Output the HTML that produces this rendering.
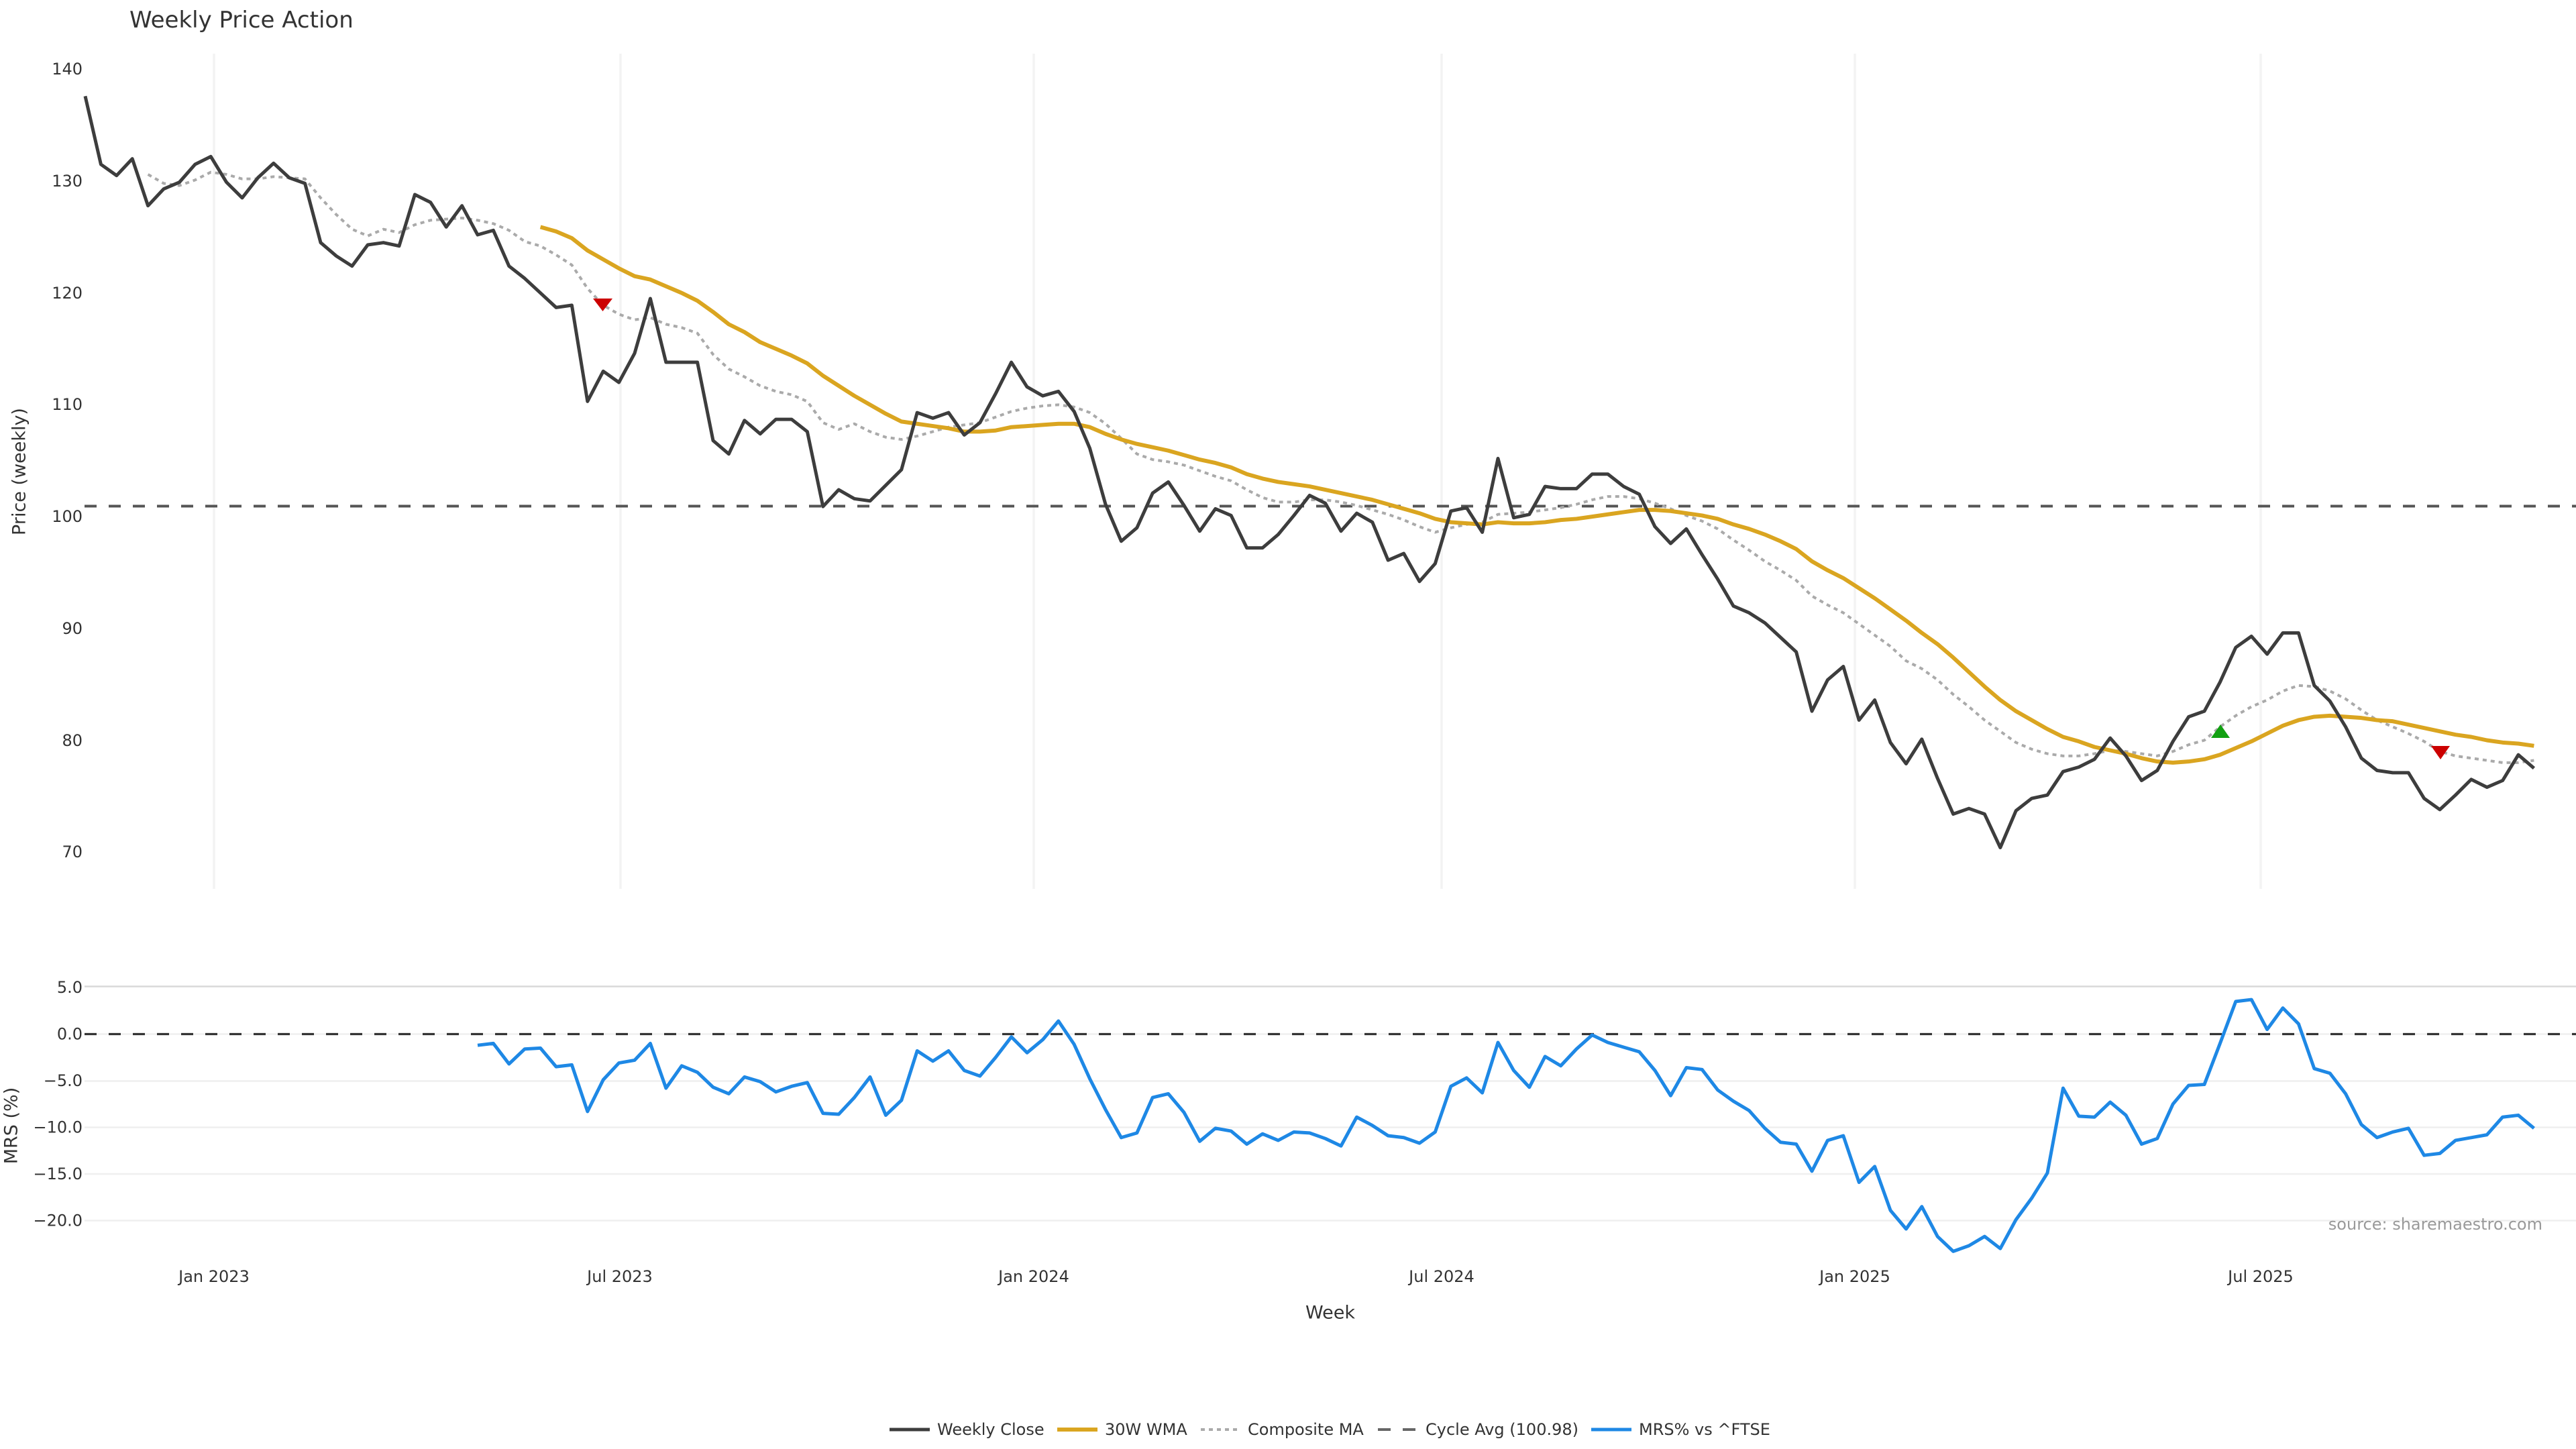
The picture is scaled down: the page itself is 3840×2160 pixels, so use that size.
<!DOCTYPE html>
<html><head><meta charset="utf-8"><style>
html,body{margin:0;padding:0;background:#fff;}
svg{display:block;}
text{font-family:"DejaVu Sans","Liberation Sans",sans-serif;fill:#333;}
</style></head><body>
<svg width="3840" height="2160" viewBox="0 0 3840 2160" xmlns="http://www.w3.org/2000/svg">
<rect width="3840" height="2160" fill="#fff"/>
<text x="193" y="41" font-size="34">Weekly Price Action</text>
<g stroke="#f3f3f3" stroke-width="3.5">
<line x1="319" y1="80" x2="319" y2="1325"/><line x1="925" y1="80" x2="925" y2="1325"/><line x1="1541" y1="80" x2="1541" y2="1325"/><line x1="2149" y1="80" x2="2149" y2="1325"/><line x1="2765" y1="80" x2="2765" y2="1325"/><line x1="3370" y1="80" x2="3370" y2="1325"/>
</g>
<g font-size="24" text-anchor="end" dominant-baseline="central">
<text x="123" y="103">140</text><text x="123" y="270">130</text><text x="123" y="437">120</text><text x="123" y="603">110</text><text x="123" y="770">100</text><text x="123" y="937">90</text><text x="123" y="1104">80</text><text x="123" y="1270">70</text>
</g>
<text transform="translate(29,703) rotate(-90)" font-size="27" text-anchor="middle" dominant-baseline="central">Price (weekly)</text>
<line x1="126" y1="754.5" x2="3840" y2="754.5" stroke="#555" stroke-width="4" stroke-dasharray="18 18"/>
<g transform="matrix(23.4 0 0 -16.67 127 2437.1)" fill="none" stroke-linejoin="round">
<polyline vector-effect="non-scaling-stroke" stroke="#aaaaaa" stroke-width="4" stroke-dasharray="6 6" points="4,130.6 5,129.8 6,129.6 7,130.1 8,130.8 9,130.6 10,130.2 11,130.2 12,130.4 13,130.3 14,130.2 15,128.5 16,127.0 17,125.7 18,125.1 19,125.7 20,125.4 21,126.1 22,126.5 23,126.6 24,126.7 25,126.5 26,126.2 27,125.6 28,124.6 29,124.2 30,123.4 31,122.5 32,120.4 33,118.9 34,118.1 35,117.6 36,117.8 37,117.2 38,116.9 39,116.4 40,114.5 41,113.2 42,112.5 43,111.7 44,111.2 45,110.9 46,110.3 47,108.4 48,107.8 49,108.3 50,107.6 51,107.1 52,106.9 53,107.2 54,107.6 55,108.0 56,108.2 57,108.4 58,108.9 59,109.4 60,109.7 61,109.9 62,110.0 63,109.8 64,109.3 65,108.3 66,107.0 67,105.6 68,105.1 69,104.9 70,104.6 71,104.1 72,103.6 73,103.2 74,102.4 75,101.7 76,101.3 77,101.3 78,101.5 79,101.5 80,101.3 81,101.0 82,100.6 83,100.2 84,99.7 85,99.1 86,98.6 87,99.0 88,99.3 89,99.5 90,100.2 91,100.3 92,100.4 93,100.6 94,100.8 95,101.1 96,101.5 97,101.8 98,101.8 99,101.6 100,101.2 101,100.7 102,100.1 103,99.6 104,98.9 105,97.9 106,97.0 107,96.0 108,95.2 109,94.3 110,92.9 111,92.1 112,91.4 113,90.4 114,89.4 115,88.4 116,87.1 117,86.4 118,85.4 119,84.1 120,83.0 121,81.8 122,80.8 123,79.8 124,79.2 125,78.8 126,78.6 127,78.6 128,78.8 129,79.1 130,79.0 131,78.8 132,78.6 133,79.0 134,79.6 135,80.0 136,81.2 137,82.2 138,83.0 139,83.6 140,84.4 141,84.9 142,84.8 143,84.4 144,83.7 145,82.7 146,81.8 147,81.2 148,80.6 149,79.9 150,79.0 151,78.6 152,78.4 153,78.2 154,78.0 155,78.0 156,78.2"/>
<polyline vector-effect="non-scaling-stroke" stroke="#DAA520" stroke-width="6" points="29,125.9 30,125.5 31,124.9 32,123.8 33,123.0 34,122.2 35,121.5 36,121.2 37,120.6 38,120.0 39,119.3 40,118.3 41,117.2 42,116.5 43,115.6 44,115.0 45,114.4 46,113.7 47,112.6 48,111.7 49,110.8 50,110.0 51,109.2 52,108.5 53,108.3 54,108.1 55,107.9 56,107.6 57,107.6 58,107.7 59,108.0 60,108.1 61,108.2 62,108.3 63,108.3 64,108.0 65,107.4 66,106.9 67,106.5 68,106.2 69,105.9 70,105.5 71,105.1 72,104.8 73,104.4 74,103.8 75,103.4 76,103.1 77,102.9 78,102.7 79,102.4 80,102.1 81,101.8 82,101.5 83,101.1 84,100.7 85,100.3 86,99.8 87,99.5 88,99.4 89,99.3 90,99.5 91,99.4 92,99.4 93,99.5 94,99.7 95,99.8 96,100.0 97,100.2 98,100.4 99,100.6 100,100.6 101,100.5 102,100.3 103,100.1 104,99.8 105,99.3 106,98.9 107,98.4 108,97.8 109,97.1 110,96.0 111,95.2 112,94.5 113,93.6 114,92.7 115,91.7 116,90.7 117,89.6 118,88.6 119,87.4 120,86.1 121,84.8 122,83.6 123,82.6 124,81.8 125,81.0 126,80.3 127,79.9 128,79.4 129,79.1 130,78.8 131,78.4 132,78.1 133,78.0 134,78.1 135,78.3 136,78.7 137,79.3 138,79.9 139,80.6 140,81.3 141,81.8 142,82.1 143,82.2 144,82.1 145,82.0 146,81.8 147,81.7 148,81.4 149,81.1 150,80.8 151,80.5 152,80.3 153,80.0 154,79.8 155,79.7 156,79.5"/>
<polyline vector-effect="non-scaling-stroke" stroke="#3d3d3d" stroke-width="5" points="0,137.6 1,131.5 2,130.5 3,132.0 4,127.8 5,129.3 6,129.9 7,131.5 8,132.2 9,129.9 10,128.5 11,130.3 12,131.6 13,130.3 14,129.8 15,124.5 16,123.3 17,122.4 18,124.3 19,124.5 20,124.2 21,128.8 22,128.1 23,125.9 24,127.8 25,125.2 26,125.6 27,122.4 28,121.3 29,120.0 30,118.7 31,118.9 32,110.3 33,113.0 34,112.0 35,114.6 36,119.5 37,113.8 38,113.8 39,113.8 40,106.8 41,105.6 42,108.6 43,107.4 44,108.7 45,108.7 46,107.6 47,100.9 48,102.4 49,101.6 50,101.4 51,102.8 52,104.2 53,109.3 54,108.8 55,109.3 56,107.3 57,108.4 58,111.0 59,113.8 60,111.6 61,110.8 62,111.2 63,109.4 64,106.1 65,101.1 66,97.8 67,99.0 68,102.1 69,103.1 70,101.0 71,98.7 72,100.7 73,100.1 74,97.2 75,97.2 76,98.4 77,100.1 78,101.9 79,101.2 80,98.7 81,100.3 82,99.5 83,96.1 84,96.7 85,94.2 86,95.8 87,100.5 88,100.8 89,98.6 90,105.2 91,99.9 92,100.2 93,102.7 94,102.5 95,102.5 96,103.8 97,103.8 98,102.7 99,102.0 100,99.1 101,97.6 102,98.9 103,96.6 104,94.4 105,92.0 106,91.4 107,90.5 108,89.2 109,87.9 110,82.6 111,85.4 112,86.6 113,81.8 114,83.6 115,79.8 116,77.9 117,80.1 118,76.6 119,73.4 120,73.9 121,73.4 122,70.4 123,73.7 124,74.8 125,75.1 126,77.2 127,77.6 128,78.3 129,80.2 130,78.6 131,76.4 132,77.3 133,79.9 134,82.1 135,82.6 136,85.2 137,88.3 138,89.3 139,87.7 140,89.6 141,89.6 142,84.9 143,83.5 144,81.2 145,78.4 146,77.3 147,77.1 148,77.1 149,74.8 150,73.8 151,75.1 152,76.5 153,75.8 154,76.4 155,78.7 156,77.5"/>
</g>
<polygon points="884,445 913,445 898.5,464" fill="#cc0000"/>
<polygon points="3296,1100 3324,1100 3310,1080" fill="#12a012"/>
<polygon points="3624,1112 3652,1112 3638,1132" fill="#cc0000"/>
<line x1="126" y1="1470.5" x2="3840" y2="1470.5" stroke="#d9d9d9" stroke-width="2.5"/>
<g stroke="#efefef" stroke-width="2.5">
<line x1="126" y1="1541.5" x2="3840" y2="1541.5"/><line x1="126" y1="1611.5" x2="3840" y2="1611.5"/><line x1="126" y1="1680.5" x2="3840" y2="1680.5"/><line x1="126" y1="1750" x2="3840" y2="1750"/><line x1="126" y1="1819.5" x2="3840" y2="1819.5"/>
</g>
<line x1="126" y1="1541.5" x2="3840" y2="1541.5" stroke="#333" stroke-width="3.3" stroke-dasharray="18 18"/>
<g font-size="24" text-anchor="end" dominant-baseline="central">
<text x="123" y="1472">5.0</text><text x="123" y="1541.5">0.0</text><text x="123" y="1611">−5.0</text><text x="123" y="1680.5">−10.0</text><text x="123" y="1750">−15.0</text><text x="123" y="1819.5">−20.0</text>
</g>
<text transform="translate(17,1678) rotate(-90)" font-size="27" text-anchor="middle" dominant-baseline="central">MRS (%)</text>
<g transform="matrix(23.4 0 0 -13.9 127 1541.5)" fill="none" stroke-linejoin="round">
<polyline vector-effect="non-scaling-stroke" stroke="#1E88E5" stroke-width="5" points="25,-1.2 26,-1.0 27,-3.2 28,-1.6 29,-1.5 30,-3.5 31,-3.3 32,-8.3 33,-4.9 34,-3.1 35,-2.8 36,-1.0 37,-5.8 38,-3.4 39,-4.1 40,-5.7 41,-6.4 42,-4.6 43,-5.1 44,-6.2 45,-5.6 46,-5.2 47,-8.5 48,-8.6 49,-6.8 50,-4.6 51,-8.7 52,-7.1 53,-1.8 54,-2.9 55,-1.8 56,-3.9 57,-4.5 58,-2.5 59,-0.3 60,-2.0 61,-0.6 62,1.4 63,-1.1 64,-4.8 65,-8.1 66,-11.1 67,-10.6 68,-6.8 69,-6.4 70,-8.4 71,-11.5 72,-10.1 73,-10.4 74,-11.8 75,-10.7 76,-11.4 77,-10.5 78,-10.6 79,-11.2 80,-12.0 81,-8.9 82,-9.8 83,-10.9 84,-11.1 85,-11.7 86,-10.5 87,-5.6 88,-4.7 89,-6.3 90,-0.9 91,-3.9 92,-5.7 93,-2.4 94,-3.4 95,-1.6 96,-0.1 97,-0.9 98,-1.4 99,-1.9 100,-3.9 101,-6.6 102,-3.6 103,-3.8 104,-6.0 105,-7.2 106,-8.2 107,-10.1 108,-11.6 109,-11.8 110,-14.7 111,-11.4 112,-10.9 113,-15.9 114,-14.2 115,-18.9 116,-20.9 117,-18.5 118,-21.7 119,-23.3 120,-22.7 121,-21.7 122,-23.0 123,-19.9 124,-17.6 125,-14.9 126,-5.8 127,-8.8 128,-8.9 129,-7.3 130,-8.7 131,-11.8 132,-11.2 133,-7.5 134,-5.5 135,-5.4 136,-1.0 137,3.5 138,3.7 139,0.5 140,2.8 141,1.1 142,-3.7 143,-4.2 144,-6.4 145,-9.7 146,-11.1 147,-10.5 148,-10.1 149,-13.0 150,-12.8 151,-11.4 152,-11.1 153,-10.8 154,-8.9 155,-8.7 156,-10.1"/>
</g>
<text x="3790" y="1825" font-size="24" text-anchor="end" dominant-baseline="central" style="fill:#999">source: sharemaestro.com</text>
<g font-size="24" text-anchor="middle" dominant-baseline="central">
<text x="319" y="1903">Jan 2023</text><text x="924" y="1903">Jul 2023</text><text x="1541" y="1903">Jan 2024</text><text x="2149" y="1903">Jul 2024</text><text x="2765" y="1903">Jan 2025</text><text x="3370" y="1903">Jul 2025</text>
</g>
<text x="1983" y="1957" font-size="27" text-anchor="middle" dominant-baseline="central">Week</text>
<g>
<line x1="1326" y1="2131" x2="1386" y2="2131" stroke="#3d3d3d" stroke-width="5"/>
<line x1="1576" y1="2131" x2="1636" y2="2131" stroke="#DAA520" stroke-width="6"/>
<line x1="1790" y1="2131" x2="1846" y2="2131" stroke="#aaaaaa" stroke-width="4" stroke-dasharray="6 6"/>
<line x1="2054" y1="2131" x2="2110" y2="2131" stroke="#666" stroke-width="4" stroke-dasharray="19 18"/>
<line x1="2372" y1="2131" x2="2432" y2="2131" stroke="#1E88E5" stroke-width="5"/>
</g>
<g font-size="24" dominant-baseline="central">
<text x="1397" y="2131">Weekly Close</text>
<text x="1647" y="2131">30W WMA</text>
<text x="1860" y="2131">Composite MA</text>
<text x="2125" y="2131">Cycle Avg (100.98)</text>
<text x="2443" y="2131">MRS% vs ^FTSE</text>
</g>
</svg>
</body></html>
